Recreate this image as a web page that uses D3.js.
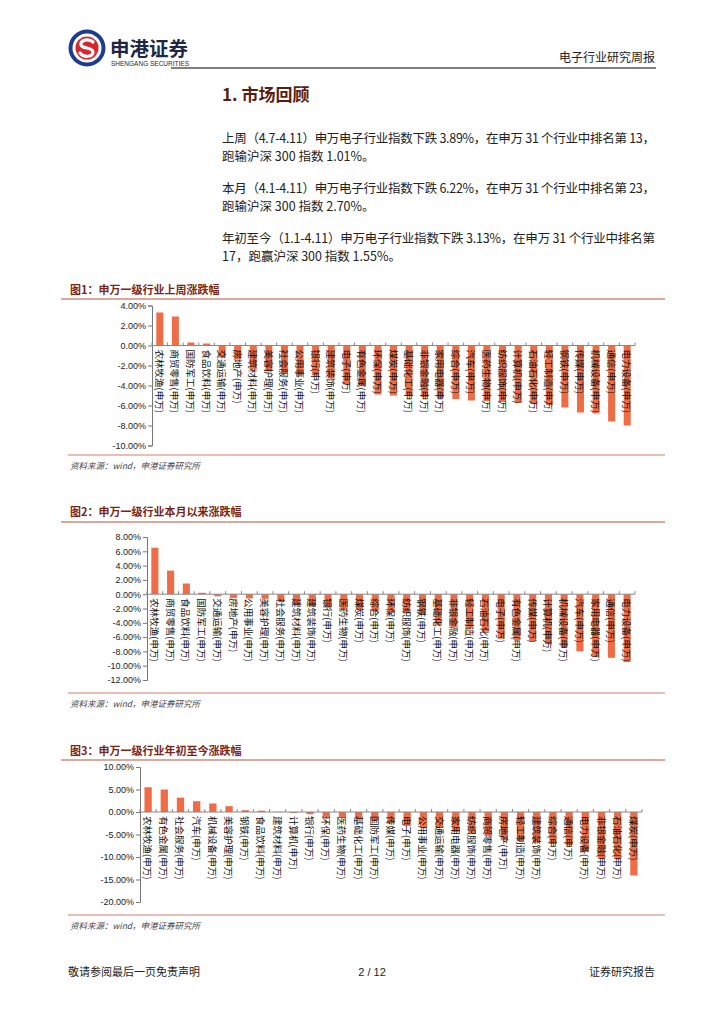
<!DOCTYPE html>
<html><head><meta charset="utf-8">
<script src="https://cdn.jsdelivr.net/npm/d3@7"></script>
<style>
html,body{margin:0;padding:0;background:#fff;}
svg{display:block;}
text{font-family:"Noto Sans CJK SC","Liberation Sans",sans-serif;}
</style></head>
<body>
<svg id="page" width="724" height="1024"></svg>
<script>
// ---------- DATA ----------
const cats1 = ["农林牧渔","商贸零售","国防军工","食品饮料","交通运输","房地产","建筑材料","美容护理","社会服务","公用事业","银行","建筑装饰","电子","有色金属","环保","煤炭","基础化工","非银金融","家用电器","综合","汽车","医药生物","纺织服饰","计算机","石油石化","轻工制造","钢铁","传媒","机械设备","通信","电力设备"];
const vals1 = [3.3,2.9,0.3,0.2,-1.2,-1.4,-2.4,-2.5,-2.8,-2.9,-3.0,-3.3,-3.89,-4.0,-4.9,-5.0,-5.05,-5.15,-5.25,-5.35,-5.5,-5.55,-5.65,-5.75,-5.85,-5.95,-6.2,-6.7,-6.8,-7.6,-8.0];
const ticks1 = [4,2,0,-2,-4,-6,-8,-10];

const cats2 = ["农林牧渔","商贸零售","食品饮料","国防军工","交通运输","房地产","公用事业","美容护理","社会服务","建筑材料","建筑装饰","银行","医药生物","煤炭","综合","环保","纺织服饰","钢铁","基础化工","非银金融","轻工制造","石油石化","电子","有色金属","传媒","计算机","机械设备","汽车","家用电器","通信","电力设备"];
const vals2 = [6.5,3.3,1.5,0.2,-0.3,-0.55,-0.6,-0.65,-1.0,-1.5,-1.7,-1.9,-2.1,-2.2,-2.4,-2.6,-2.7,-2.8,-4.4,-4.6,-4.8,-5.2,-6.22,-6.4,-6.6,-7.0,-7.4,-8.0,-8.8,-8.9,-9.5];
const ticks2 = [8,6,4,2,0,-2,-4,-6,-8,-10,-12];

const cats3 = ["农林牧渔","有色金属","社会服务","汽车","机械设备","美容护理","钢铁","食品饮料","建筑材料","计算机","银行","环保","医药生物","基础化工","国防军工","传媒","电子","公用事业","交通运输","家用电器","纺织服饰","商贸零售","房地产","轻工制造","建筑装饰","综合","通信","电力设备","非银金融","石油石化","煤炭"];
const vals3 = [5.5,5.0,3.2,2.4,1.9,1.3,0.4,0.3,0.05,-0.2,-0.5,-1.1,-1.2,-1.5,-1.85,-2.5,-3.13,-3.5,-3.6,-4.4,-4.8,-5.3,-6.3,-6.5,-6.8,-7.0,-7.4,-8.8,-10.4,-10.5,-14.1];
const ticks3 = [10,5,0,-5,-10,-15,-20];

const paragraphs = [
  ["上周（4.7-4.11）申万电子行业指数下跌 3.89%，在申万 31 个行业中排名第 13，","跑输沪深 300 指数 1.01%。"],
  ["本月（4.1-4.11）申万电子行业指数下跌 6.22%，在申万 31 个行业中排名第 23，","跑输沪深 300 指数 2.70%。"],
  ["年初至今（1.1-4.11）申万电子行业指数下跌 3.13%，在申万 31 个行业中排名第","17，跑赢沪深 300 指数 1.55%。"]
];
const chartTitles = ["图1：申万一级行业上周涨跌幅","图2：申万一级行业本月以来涨跌幅","图3：申万一级行业年初至今涨跌幅"];
const sourceText = "资料来源：wind，申港证券研究所";

// ---------- PAGE ----------
const svg = d3.select("#page");
const BAR = "#EE6D47";
const TITLE_RED = "#7A2416";

// logo
const logo = svg.append("g").attr("transform","translate(87,48)");
logo.append("circle").attr("r",18.5).attr("fill","#1D3C8F");
logo.append("circle").attr("r",14.5).attr("fill","#fff");
logo.append("circle").attr("r",11.5).attr("fill","#D7262C");
logo.append("path").attr("d","M6,-6 C2,-10 -7,-8 -6,-3 C-5,1 6,-1 6,4 C6,9 -3,10 -7,5")
  .attr("fill","none").attr("stroke","#fff").attr("stroke-width",3.2).attr("stroke-linecap","round");
svg.append("text").attr("x",110).attr("y",56).attr("font-size",19.5).attr("font-weight","bold")
  .attr("fill","#1E2746").text("申港证券");
svg.append("text").attr("x",111).attr("y",66).attr("font-size",6.8).attr("fill","#1E2746")
  .attr("textLength",78).attr("lengthAdjust","spacingAndGlyphs")
  .style("font-family","Liberation Sans").text("SHENGANG SECURITIES");
svg.append("text").attr("x",655).attr("y",62).attr("text-anchor","end").attr("font-size",12)
  .attr("fill","#222").text("电子行业研究周报");
svg.append("line").attr("x1",171).attr("x2",656).attr("y1",68).attr("y2",68)
  .attr("stroke","#555").attr("stroke-width",1.5);

// section title
svg.append("text").attr("x",222).attr("y",101).attr("font-size",17).attr("font-weight","bold")
  .attr("fill","#5A1E10").text("1. 市场回顾");

// paragraphs
const paraY = [142.5,192.5,243];
paragraphs.forEach((p,i)=>{
  svg.append("text").attr("x",222).attr("y",paraY[i]).attr("font-size",12.5).attr("fill","#222")
    .attr("textLength",433).attr("lengthAdjust","spacing").text(p[0]);
  svg.append("text").attr("x",222).attr("y",paraY[i]+18).attr("font-size",12.5).attr("fill","#222")
    .text(p[1]);
});

// footer
svg.append("text").attr("x",68).attr("y",976).attr("font-size",11).attr("fill","#222").text("敬请参阅最后一页免责声明");
svg.append("text").attr("x",372).attr("y",976).attr("text-anchor","middle").attr("font-size",11)
  .style("font-family","Liberation Sans").attr("fill","#222").text("2 / 12");
svg.append("text").attr("x",655).attr("y",976).attr("text-anchor","end").attr("font-size",11).attr("fill","#222").text("证券研究报告");

// ---------- CHARTS ----------
function drawChart(cfg){
  const g = svg.append("g");
  g.append("text").attr("x",70).attr("y",cfg.titleY).attr("font-size",11).attr("font-weight","bold")
    .attr("fill",TITLE_RED).text(cfg.title);
  g.append("line").attr("x1",61).attr("x2",665).attr("y1",cfg.lineTop).attr("y2",cfg.lineTop)
    .attr("stroke","#C0503A").attr("stroke-width",1.2);
  g.append("line").attr("x1",68).attr("x2",665).attr("y1",cfg.lineBottom).attr("y2",cfg.lineBottom)
    .attr("stroke","#D0806C").attr("stroke-width",1.2);
  g.append("text").attr("x",70).attr("y",cfg.lineBottom+14).attr("font-size",8.5)
    .attr("font-style","italic").attr("fill","#444").text(sourceText);

  const y = d3.scaleLinear().domain(cfg.domain).range([cfg.yBottom,cfg.yTop]);
  const x = d3.scaleBand().domain(cfg.cats).range([cfg.x0,cfg.x1]).paddingInner(0.55).paddingOuter(0.275);

  g.selectAll("rect.bar").data(cfg.vals).enter().append("rect")
    .attr("x",(d,i)=>x(cfg.cats[i])).attr("width",x.bandwidth())
    .attr("y",d=>y(Math.max(0,d))).attr("height",d=>Math.abs(y(d)-y(0)))
    .attr("fill",BAR);

  const ya = d3.axisLeft(y).tickValues(cfg.ticks).tickSize(4).tickFormat(d=>d.toFixed(2)+"%");
  const yg = g.append("g").attr("transform",`translate(${cfg.x0},0)`).call(ya);
  yg.select(".domain").attr("stroke","#777");
  yg.selectAll(".tick line").attr("stroke","#777");
  yg.selectAll(".tick text").attr("font-size",9).attr("fill","#222").attr("x",-6)
    .style("font-family","Liberation Sans");

  const z = y(0);
  g.append("line").attr("x1",cfg.x0).attr("x2",cfg.x1).attr("y1",z).attr("y2",z).attr("stroke","#888");
  const step = x.step();
  g.selectAll("line.xt").data(d3.range(cfg.cats.length+1)).enter().append("line")
    .attr("x1",i=>cfg.x0+i*step).attr("x2",i=>cfg.x0+i*step)
    .attr("y1",z).attr("y2",z-3).attr("stroke","#888");

  g.selectAll("text.cat").data(cfg.cats).enter().append("text")
    .attr("transform",d=>`translate(${x(d)+x.bandwidth()/2},${z+4}) rotate(90)`)
    .attr("text-anchor","start").attr("dominant-baseline","central")
    .attr("font-size",9.5).attr("fill","#111").text(d=>d+"(申万)");
}

drawChart({title:chartTitles[0],titleY:294,lineTop:299,lineBottom:455,
  cats:cats1,vals:vals1,ticks:ticks1,domain:[-10,4],yTop:305.5,yBottom:445.5,x0:152,x1:635});
drawChart({title:chartTitles[1],titleY:516,lineTop:522,lineBottom:693,
  cats:cats2,vals:vals2,ticks:ticks2,domain:[-12,8],yTop:537,yBottom:680,x0:147,x1:635});
drawChart({title:chartTitles[2],titleY:755,lineTop:760,lineBottom:915,
  cats:cats3,vals:vals3,ticks:ticks3,domain:[-20,10],yTop:767,yBottom:902,x0:140,x1:642});
</script>
</body></html>
